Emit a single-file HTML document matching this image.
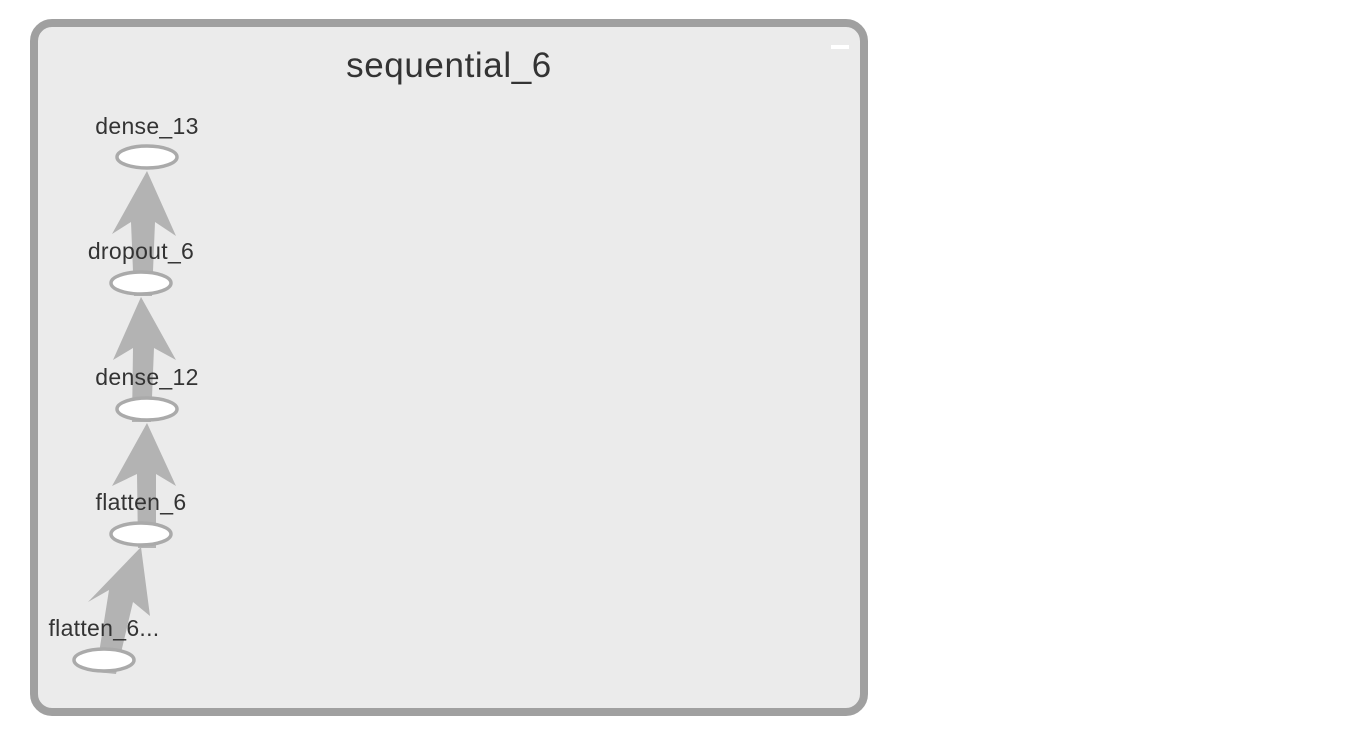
<!DOCTYPE html>
<html><head><style>body{margin:0;background:#fff}svg{display:block}text{font-family:"Liberation Sans",sans-serif;fill:#333}</style></head><body>
<svg width="1357" height="741" viewBox="0 0 1357 741">
<rect x="34" y="23" width="830" height="689" rx="18" fill="#ebebeb" stroke="#a0a0a0" stroke-width="8"/>
<rect x="831" y="45" width="18" height="4" fill="#fff"/>
<text x="449" y="77" font-size="35" letter-spacing="0.6" text-anchor="middle">sequential_6</text>
<g fill="#b3b3b3">
<polygon points="134,296 131,222 112,234 147,171 176,236 155,222 152,296"/>
<polygon points="132,422 133,348 113,360 141,297 176,360 154,348 151,422"/>
<polygon points="138,548 137,474 112,486 147,423 176,486 156,474 156,548"/>
<polygon points="96,672 109,590 88,602 141,547 150,616 133,602 116,674"/>
</g>
<g fill="#fff" stroke="#aaa" stroke-width="3.5">
<ellipse cx="147" cy="157" rx="30" ry="11"/>
<ellipse cx="141" cy="283" rx="30" ry="11"/>
<ellipse cx="147" cy="409" rx="30" ry="11"/>
<ellipse cx="141" cy="534" rx="30" ry="11"/>
<ellipse cx="104" cy="660" rx="30" ry="11"/>
</g>
<g font-size="23" letter-spacing="0.3" text-anchor="middle">
<text x="147" y="134">dense_13</text>
<text x="141" y="259">dropout_6</text>
<text x="147" y="385">dense_12</text>
<text x="141" y="510">flatten_6</text>
<text x="104" y="636">flatten_6...</text>
</g>
</svg>
</body></html>
